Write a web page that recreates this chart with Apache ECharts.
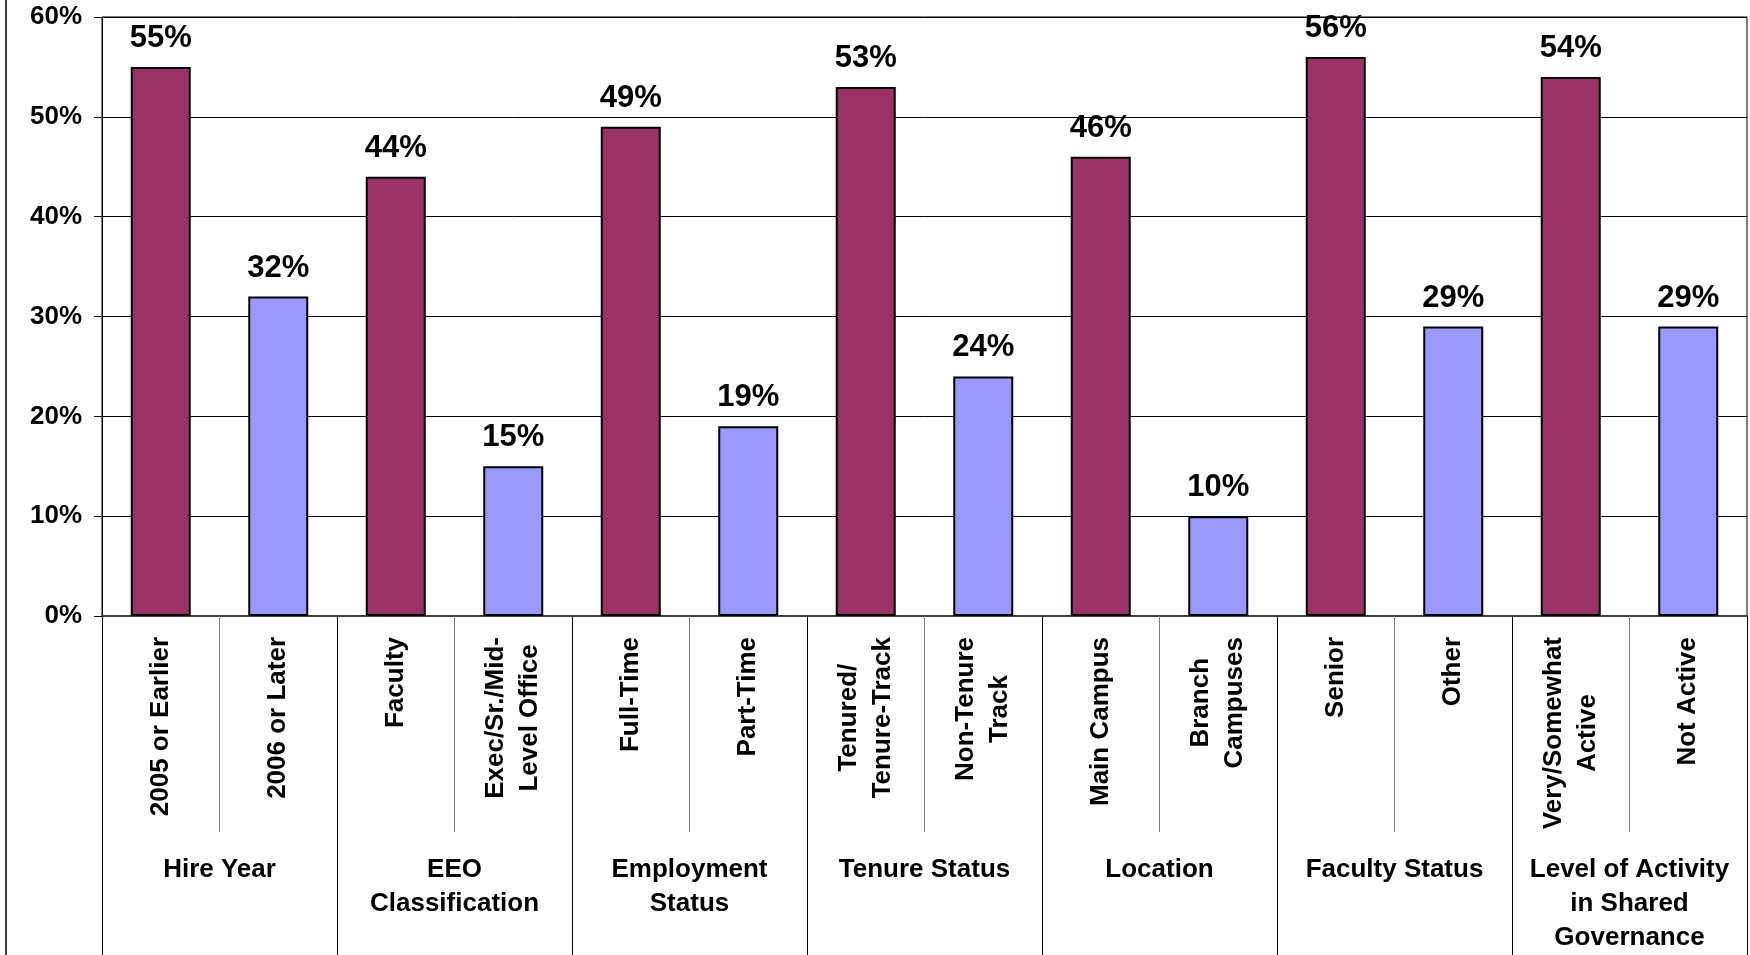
<!DOCTYPE html>
<html>
<head>
<meta charset="utf-8">
<script src="https://cdn.jsdelivr.net/npm/echarts@6/dist/echarts.min.js"></script>
<style>
  html, body { margin: 0; padding: 0; background: #fff; }
  #chart { width: 1750px; height: 955px; }
</style>
</head>
<body>
<div id="chart"></div>
<script>
// ---- Data ----
const categories = [
  '2005 or Earlier', '2006 or Later',
  'Faculty', 'Exec/Sr./Mid-\nLevel Office',
  'Full-Time', 'Part-Time',
  'Tenured/\nTenure-Track', 'Non-Tenure\nTrack',
  'Main Campus', 'Branch\nCampuses',
  'Senior', 'Other',
  'Very/Somewhat\nActive', 'Not Active'
];
const values = [55, 32, 44, 15, 49, 19, 53, 24, 46, 10, 56, 29, 54, 29];
const groups = [
  'Hire Year', 'EEO\nClassification', 'Employment\nStatus', 'Tenure Status',
  'Location', 'Faculty Status', 'Level of Activity\nin Shared\nGovernance'
];
const yTicks = [0, 10, 20, 30, 40, 50, 60];
const pairColors = ['#993366', '#9999FF'];

const FONT = '"Liberation Sans", Arial, sans-serif';

const chart = echarts.init(document.getElementById('chart'), null, { renderer: 'canvas' });

const option = {
  backgroundColor: '#fff',
  animation: false,
  textStyle: { fontFamily: FONT },
  grid: {
    left: 102, right: 3, top: 17, bottom: 339,
    show: true, borderColor: '#000', borderWidth: 1, backgroundColor: 'transparent'
  },
  graphic: [{
    type: 'line',
    shape: { x1: 6, y1: 0, x2: 6, y2: 955 },
    style: { stroke: '#000', lineWidth: 1.5 }
  }],
  xAxis: [
    {
      type: 'category',
      data: categories,
      position: 'bottom',
      axisLine: { show: true, lineStyle: { color: '#404040', width: 2 } },
      axisTick: { show: true, length: 216, lineStyle: { color: '#808080', width: 1 } },
      axisLabel: {
        interval: 0,
        rotate: 90,
        margin: 21,
        color: '#000',
        fontFamily: FONT,
        fontSize: 26,
        fontWeight: 'bold',
        lineHeight: 34,
        formatter: v => v.split('\n').map(s => '{a|' + s + '}').join('\n'),
        rich: {
          a: { fontFamily: FONT, fontSize: 26, fontWeight: 'bold', lineHeight: 34, align: 'center', color: '#000' }
        }
      },
      splitLine: { show: false }
    },
    {
      type: 'category',
      data: groups,
      position: 'bottom',
      axisLine: { show: false },
      axisTick: { show: true, length: 339, lineStyle: { color: '#000', width: 1 } },
      axisLabel: {
        interval: 0,
        margin: 237,
        color: '#000',
        fontFamily: FONT,
        fontSize: 26,
        fontWeight: 'bold',
        lineHeight: 34,
        align: 'center',
        verticalAlign: 'top'
      },
      splitLine: { show: false }
    }
  ],
  yAxis: {
    type: 'value',
    min: yTicks[0],
    max: yTicks[yTicks.length - 1],
    interval: yTicks[1] - yTicks[0],
    axisLine: { show: true, lineStyle: { color: '#000', width: 1 } },
    axisTick: { show: true, length: 8, lineStyle: { color: '#000' } },
    axisLabel: {
      formatter: '{value}%',
      margin: 20,
      color: '#000',
      fontFamily: FONT,
      fontSize: 26,
      fontWeight: 'bold'
    },
    splitLine: { show: true, lineStyle: { color: '#000', width: 1 } }
  },
  series: [{
    type: 'bar',
    xAxisIndex: 0,
    data: values.map((v, i) => ({
      value: v,
      itemStyle: { color: pairColors[i % 2] }
    })),
    barWidth: 60,
    itemStyle: { borderColor: '#000', borderWidth: 2 },
    label: {
      show: true,
      position: 'top',
      distance: 13,
      formatter: '{c}%',
      color: '#000',
      fontFamily: FONT,
      fontSize: 31,
      fontWeight: 'bold'
    }
  }]
};

chart.setOption(option);
</script>
</body>
</html>
